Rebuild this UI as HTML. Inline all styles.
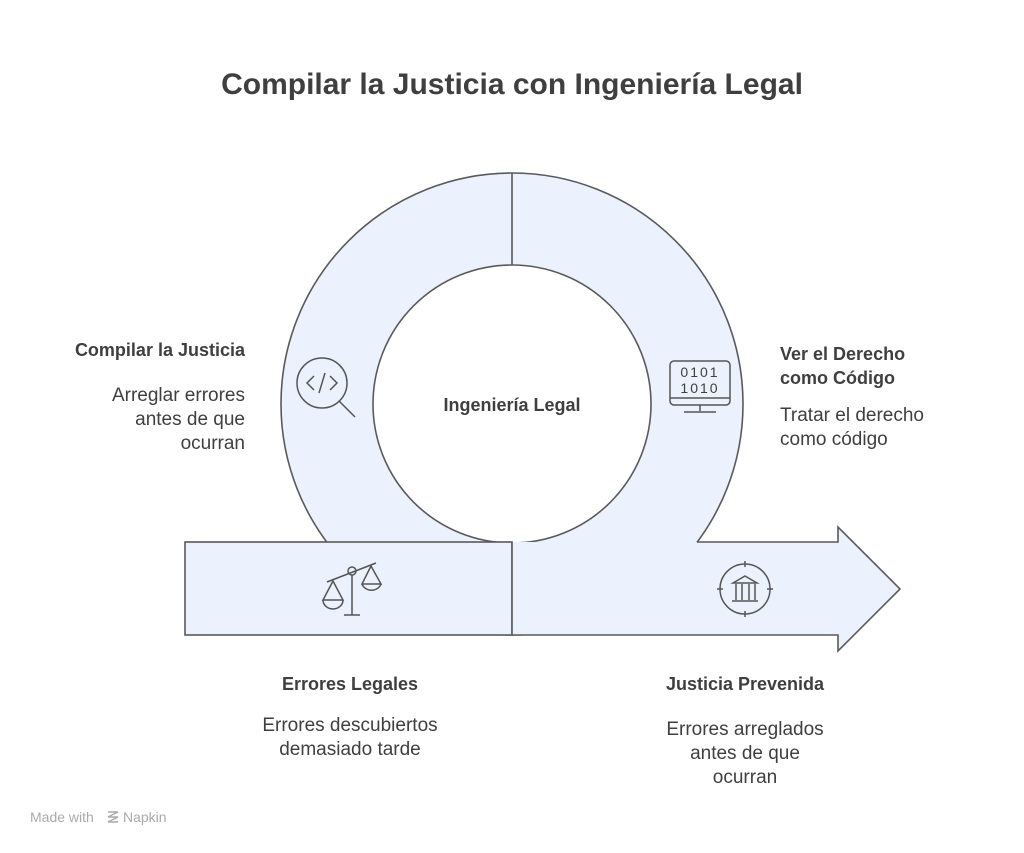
<!DOCTYPE html>
<html><head><meta charset="utf-8"><style>
body{margin:0;width:1024px;height:853px;background:#fff;overflow:hidden}
svg{display:block}
text{font-family:"Liberation Sans",sans-serif;fill:#3f3f3f}
.b{font-weight:bold;font-size:18px}
.n{font-size:19px}
</style></head><body>
<svg width="1024" height="853" viewBox="0 0 1024 853">
<text x="512" y="94" text-anchor="middle" font-size="30" font-weight="bold" fill="#3a3a3a">Compilar la Justicia con Ingeniería Legal</text>
<g stroke="#5a5a5a" stroke-width="1.6" fill="#ebf1fd">
<path fill-rule="evenodd" d="M281,404a231,231 0 1,0 462,0a231,231 0 1,0 -462,0Z M373,404a139,139 0 1,0 278,0a139,139 0 1,0 -278,0Z"/>
<rect x="185" y="542" width="327" height="93"/>
<path stroke="none" d="M512,542 L838,542 L838,527 L900,589 L838,651 L838,635 L512,635Z"/>
<path fill="none" d="M697,542 L838,542 L838,527 L900,589 L838,651 L838,635 L512,635"/>
<path fill="none" d="M512,173 L512,265 M512,542 L512,635"/>
</g>
<g stroke="#555" stroke-width="1.5" fill="none">
<circle cx="322" cy="383" r="25"/><path d="M339,401 L355,417"/>
<path d="M314,376 L307,383 L314,390 M330,376 L337,383 L330,390 M325,373 L319,393"/>
<rect x="670" y="361" width="60" height="44" rx="4"/><path d="M670,398 L730,398 M700,405 L700,411 M684,412 L716,412"/>
<circle cx="352" cy="571" r="4"/><path d="M352,575 L352,615 M344,615 L360,615 M327,582 L376,563"/>
<path d="M333,581 L323,600 L343,600Z M371,566 L362,584 L381,584Z"/>
<path d="M323,600 a10,9 0 0 0 20,0 M362,584 a10,9 0 0 0 19,0"/>
<circle cx="745" cy="589" r="25"/><path d="M745,561 L745,567 M745,611 L745,617 M717,589 L723,589 M767,589 L773,589"/>
<path d="M733,583 L745,576 L757,583Z M736,584 L736,600 M742,584 L742,600 M749,584 L749,600 M755,584 L755,600 M732,601 L758,601"/>
</g>
<text x="700" y="377" text-anchor="middle" font-family="Liberation Mono" font-size="14" fill="#555" letter-spacing="2">0101</text>
<text x="700" y="393" text-anchor="middle" font-family="Liberation Mono" font-size="14" fill="#555" letter-spacing="2">1010</text>
<text x="512" y="411" text-anchor="middle" class="b">Ingeniería Legal</text>
<text x="245" y="356" text-anchor="end" class="b">Compilar la Justicia</text>
<text x="245" y="401" text-anchor="end" class="n">Arreglar errores</text>
<text x="245" y="425" text-anchor="end" class="n">antes de que</text>
<text x="245" y="449" text-anchor="end" class="n">ocurran</text>
<text x="780" y="360" class="b">Ver el Derecho</text>
<text x="780" y="384" class="b">como Código</text>
<text x="780" y="421" class="n">Tratar el derecho</text>
<text x="780" y="445" class="n">como código</text>
<text x="350" y="690" text-anchor="middle" class="b">Errores Legales</text>
<text x="350" y="731" text-anchor="middle" class="n">Errores descubiertos</text>
<text x="350" y="755" text-anchor="middle" class="n">demasiado tarde</text>
<text x="745" y="690" text-anchor="middle" class="b">Justicia Prevenida</text>
<text x="745" y="735" text-anchor="middle" class="n">Errores arreglados</text>
<text x="745" y="759" text-anchor="middle" class="n">antes de que</text>
<text x="745" y="783" text-anchor="middle" class="n">ocurran</text>
<text x="30" y="822" font-size="14" style="fill:#aaa">Made with</text>
<path d="M108,812 L118,812 L108,817 L118,817 L108,822 L118,822" stroke="#aaa" stroke-width="1.5" fill="none"/>
<text x="123" y="822" font-size="14" style="fill:#aaa">Napkin</text>
</svg>
</body></html>
